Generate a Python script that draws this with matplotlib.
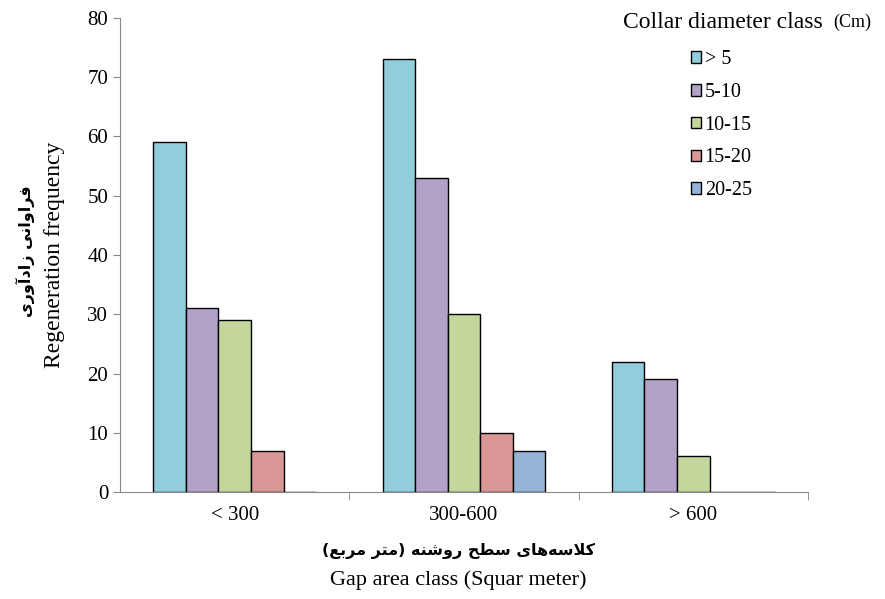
import numpy as np
import matplotlib
matplotlib.use("Agg")
import matplotlib.pyplot as plt

# Daten
gruppen = ["< 300", "300-600", "> 600"]
klassen = ["> 5", "5-10", "10-15", "15-20", "20-25"]
werte_5 = [59, 31, 29, 7, 0]
werte_300_600 = [73, 53, 30, 10, 7]
werte_600 = [22, 19, 6, 0, 0]
farben = ["#92CDDC", "#B2A2C7", "#C3D69B", "#D99694", "#95B3D7"]

# Persische Beschriftung als Praesentationsformen (logische Reihenfolge)
y_fa = [0xFED3, 0xFEAE, 0xFE8D, 0xFEED, 0xFE8D, 0xFEE7, 0xFBFD, 0x20,
        0xFEAF, 0xFE8D, 0xFEA9, 0xFE81, 0xFEED, 0xFEAD, 0xFBFC]
x_fa = [0xFB90, 0xFEFC, 0xFEB3, 0xFEEA, 0xFEEB, 0xFE8E, 0xFBFC, 0x20,
        0xFEB3, 0xFEC4, 0xFEA2, 0x20,
        0xFEAD, 0xFEED, 0xFEB7, 0xFEE8, 0xFEEA, 0x20,
        ord("("), 0xFEE3, 0xFE98, 0xFEAE, 0x20, 0xFEE3, 0xFEAE, 0xFE91, 0xFECA, ord(")")]


def rtl(codes):
    # umdrehen fuer die Darstellung von links nach rechts, Klammern spiegeln
    s = "".join(chr(c) for c in reversed(codes))
    return s.translate(str.maketrans("()", ")("))


plt.rcParams["font.family"] = ["Liberation Serif", "DejaVu Sans"]

daten = np.array([werte_5, werte_300_600, werte_600])
x = np.arange(len(gruppen))
breite = 0.142

fig = plt.figure(figsize=(8.85, 5.99), dpi=100)
ax = fig.add_axes([0.1356, 0.1786, 0.7774, 0.7914])

for i, k in enumerate(klassen):
    ax.bar(x + (i - 2) * breite, daten[:, i], breite, color=farben[i],
           edgecolor="black", linewidth=1.0, label=k)

ax.set_xlim(-0.5, 2.5)
ax.set_ylim(0, 80)
ax.set_yticks(range(0, 81, 10))
ax.set_xticks(x)
ax.set_xticklabels(gruppen)
ax.set_xticks([0.5, 1.5, 2.5], minor=True)
ax.tick_params(axis="x", which="major", length=0, labelsize=15, pad=10)
ax.tick_params(axis="x", which="minor", length=6, color="#888888")
ax.tick_params(axis="y", labelsize=15, length=5, color="#888888")
for s in ["top", "right"]:
    ax.spines[s].set_visible(False)
for s in ["left", "bottom"]:
    ax.spines[s].set_color("#888888")

fig.text(0.062, 0.575, "Regeneration frequency", rotation=90, fontsize=17,
         ha="center", va="center")
fig.text(0.029, 0.58, rtl(y_fa), rotation=90, fontsize=11.5, fontweight="bold",
         family="DejaVu Sans", ha="center", va="center")
fig.text(0.518, 0.032, "Gap area class (Squar meter)", fontsize=16,
         ha="center", va="center")
fig.text(0.518, 0.08, rtl(x_fa), fontsize=11.5, fontweight="bold",
         family="DejaVu Sans", ha="center", va="center")

fig.text(0.930, 0.962, "Collar diameter class", fontsize=17, ha="right", va="center")
fig.text(0.941, 0.962, "(Cm)", fontsize=13, ha="left", va="center")
leg = ax.legend(loc="upper left", bbox_to_anchor=(0.803, 0.97), frameon=False,
                fontsize=14.5, handlelength=0.5, handleheight=0.5, handletextpad=0.2,
                labelspacing=0.68)

fig.savefig("out.png", dpi=100)
